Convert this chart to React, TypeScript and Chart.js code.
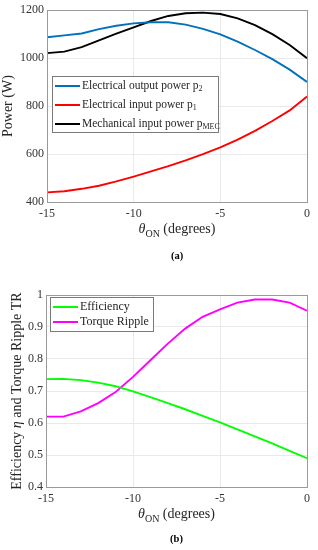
import React, { useEffect, useRef } from 'react';
import { Chart, registerables } from 'chart.js';
Chart.register(...registerables);

const FONT = '"Liberation Serif", "Times New Roman", serif';

const thetaOn = [-15, -14, -13, -12, -11, -10, -9, -8, -7, -6, -5, -4, -3, -2, -1, 0];
const xTicks = [-15, -10, -5, 0];
const xTickLabels = ['-15', '-10', '-5', '0'];

// (a) powers in W
const p2Output = [1087, 1095, 1103, 1121, 1135, 1145, 1150, 1150, 1140, 1122, 1099, 1069, 1034, 996, 952, 901];
const p1Input = [440, 445, 455, 468, 486, 506, 528, 550, 574, 600, 628, 660, 697, 738, 782, 840];
const pMecInput = [1021, 1027, 1046, 1074, 1102, 1128, 1155, 1176, 1187, 1190, 1184, 1166, 1138, 1100, 1055, 1000];
const powerTicks = [400, 600, 800, 1000, 1200];
const powerTickLabels = ['400', '600', '800', '1000', '1200'];

// (b) efficiency and torque ripple
const efficiency = [0.737, 0.738, 0.734, 0.726, 0.715, 0.699, 0.681, 0.662, 0.643, 0.622, 0.602, 0.58, 0.558, 0.536, 0.513, 0.49];
const torqueRipple = [0.62, 0.62, 0.636, 0.662, 0.697, 0.744, 0.796, 0.848, 0.895, 0.932, 0.955, 0.976, 0.986, 0.986, 0.976, 0.951];
const ratioTicks = [0.4, 0.5, 0.6, 0.7, 0.8, 0.9, 1];
const ratioTickLabels = ['0.4', '0.5', '0.6', '0.7', '0.8', '0.9', '1'];

type Part = { text: string; font: string; dy?: number };

function drawRich(ctx: CanvasRenderingContext2D, parts: Part[], x: number, y: number, align: 'left' | 'center') {
  let w = 0;
  for (const p of parts) {
    ctx.font = p.font;
    w += ctx.measureText(p.text).width;
  }
  let cx = align === 'center' ? x - w / 2 : x;
  ctx.textAlign = 'left';
  for (const p of parts) {
    ctx.font = p.font;
    ctx.fillText(p.text, cx, y + (p.dy || 0));
    cx += ctx.measureText(p.text).width;
  }
}

type LegendItem = { color: string; parts: Part[] };
type Deco = {
  legendBox: { x: number; y: number; w: number; h: number };
  legendItems: LegendItem[];
  legendRowY: number[];
  lineX0: number;
  lineX1: number;
  textX: number;
  yTitle: Part[];
  yTitleX: number;
  xTitleY: number;
  caption: string;
  captionY: number;
};

function decoPlugin(d: Deco) {
  return {
    id: 'deco',
    afterDraw(chart: any) {
      const ctx: CanvasRenderingContext2D = chart.ctx;
      const a = chart.chartArea;
      ctx.save();
      // axes box
      ctx.strokeStyle = '#9a9a9a';
      ctx.lineWidth = 1;
      ctx.strokeRect(Math.round(a.left) + 0.5, Math.round(a.top) + 0.5, Math.round(a.right - a.left), Math.round(a.bottom - a.top));
      // legend
      const b = d.legendBox;
      ctx.fillStyle = '#ffffff';
      ctx.fillRect(b.x, b.y, b.w, b.h);
      ctx.strokeStyle = '#7a7a7a';
      ctx.strokeRect(b.x + 0.5, b.y + 0.5, b.w, b.h);
      ctx.textBaseline = 'middle';
      d.legendItems.forEach((it, i) => {
        const yy = d.legendRowY[i];
        ctx.strokeStyle = it.color;
        ctx.lineWidth = 2;
        ctx.beginPath();
        ctx.moveTo(d.lineX0, yy);
        ctx.lineTo(d.lineX1, yy);
        ctx.stroke();
        ctx.fillStyle = '#262626';
        drawRich(ctx, it.parts, d.textX, yy, 'left');
      });
      // x title
      ctx.fillStyle = '#262626';
      const cx = (a.left + a.right) / 2;
      drawRich(ctx, [
        { text: 'θ', font: `italic 14px ${FONT}` },
        { text: 'ON', font: `10px ${FONT}`, dy: 5 },
        { text: ' (degrees)', font: `14px ${FONT}` },
      ], cx, d.xTitleY, 'center');
      // y title
      ctx.save();
      ctx.translate(d.yTitleX, (a.top + a.bottom) / 2);
      ctx.rotate(-Math.PI / 2);
      drawRich(ctx, d.yTitle, 0, 0, 'center');
      ctx.restore();
      // caption
      ctx.fillStyle = '#000';
      ctx.font = `bold 10.5px ${FONT}`;
      ctx.textAlign = 'center';
      ctx.fillText(d.caption, cx, d.captionY);
      ctx.restore();
    },
  };
}

function makeScales(yMin: number, yMax: number, yTicks: number[], yLabels: string[], yWidth: number) {
  const tickFont = { family: FONT, size: 12 };
  return {
    x: {
      type: 'linear',
      min: -15,
      max: 0,
      afterBuildTicks: (s: any) => { s.ticks = xTicks.map((v) => ({ value: v })); },
      afterFit: (s: any) => { s.height = 20; },
      ticks: {
        callback: (v: any) => { const i = xTicks.indexOf(Number(v)); return i >= 0 ? xTickLabels[i] : ''; },
        font: tickFont, color: '#333333', padding: 5, maxRotation: 0, autoSkip: false,
      },
      grid: { color: '#e9e9e9', drawTicks: false },
      border: { display: false },
    },
    y: {
      type: 'linear',
      min: yMin,
      max: yMax,
      afterBuildTicks: (s: any) => { s.ticks = yTicks.map((v) => ({ value: v })); },
      afterFit: (s: any) => { s.width = yWidth; },
      ticks: {
        callback: (v: any) => {
          const i = yTicks.findIndex((t) => Math.abs(t - Number(v)) < 1e-9);
          return i >= 0 ? yLabels[i] : '';
        },
        font: tickFont, color: '#333333', padding: 3, autoSkip: false,
      },
      grid: { color: '#e9e9e9', drawTicks: false },
      border: { display: false },
    },
  };
}

function ds(label: string, values: number[], color: string) {
  return {
    label,
    data: thetaOn.map((x, i) => ({ x, y: values[i] })),
    borderColor: color,
    backgroundColor: color,
    borderWidth: 1.9,
    pointRadius: 0,
    tension: 0,
    fill: false,
  };
}

export default function App() {
  const refA = useRef<HTMLCanvasElement>(null);
  const refB = useRef<HTMLCanvasElement>(null);

  useEffect(() => {
    document.body.style.margin = '0';
    const sub = (t: string) => ({ text: t, font: `8px ${FONT}`, dy: 3 });
    const lf = `11.5px ${FONT}`;
    const chartA = new Chart(refA.current as HTMLCanvasElement, {
      type: 'line',
      data: {
        datasets: [
          ds('Electrical output power p2', p2Output, '#0072BD'),
          ds('Electrical input power p1', p1Input, '#FF0000'),
          ds('Mechanical input power pMEC', pMecInput, '#000000'),
        ],
      },
      options: {
        animation: false,
        responsive: false,
        maintainAspectRatio: false,
        layout: { padding: { left: 0, right: 11, top: 10, bottom: 48 } },
        plugins: { legend: { display: false }, tooltip: { enabled: false } },
        scales: makeScales(400, 1200, powerTicks, powerTickLabels, 47) as any,
      },
      plugins: [decoPlugin({
        legendBox: { x: 52, y: 76, w: 166, h: 56 },
        legendItems: [
          { color: '#0072BD', parts: [{ text: 'Electrical output power p', font: lf }, sub('2')] },
          { color: '#FF0000', parts: [{ text: 'Electrical input power p', font: lf }, sub('1')] },
          { color: '#000000', parts: [{ text: 'Mechanical input power p', font: lf }, sub('MEC')] },
        ],
        legendRowY: [86, 105, 124],
        lineX0: 55,
        lineX1: 80,
        textX: 82,
        yTitle: [{ text: 'Power (W)', font: `14px ${FONT}` }],
        yTitleX: 8,
        xTitleY: 229,
        caption: '(a)',
        captionY: 256,
      }) as any],
    });

    const lf2 = `12px ${FONT}`;
    const chartB = new Chart(refB.current as HTMLCanvasElement, {
      type: 'line',
      data: {
        datasets: [
          ds('Efficiency', efficiency, '#00FF00'),
          ds('Torque Ripple', torqueRipple, '#FF00FF'),
        ],
      },
      options: {
        animation: false,
        responsive: false,
        maintainAspectRatio: false,
        layout: { padding: { left: 0, right: 11, top: 25, bottom: 43 } },
        plugins: { legend: { display: false }, tooltip: { enabled: false } },
        scales: makeScales(0.4, 1, ratioTicks, ratioTickLabels, 46) as any,
      },
      plugins: [decoPlugin({
        legendBox: { x: 50, y: 27, w: 103, h: 34 },
        legendItems: [
          { color: '#00FF00', parts: [{ text: 'Efficiency', font: lf2 }] },
          { color: '#FF00FF', parts: [{ text: 'Torque Ripple', font: lf2 }] },
        ],
        legendRowY: [37, 52],
        lineX0: 53,
        lineX1: 78,
        textX: 80,
        yTitle: [
          { text: 'Efficiency ', font: `14px ${FONT}` },
          { text: 'η', font: `italic 14px ${FONT}` },
          { text: ' and Torque Ripple TR', font: `14px ${FONT}` },
        ],
        yTitleX: 17,
        xTitleY: 244,
        caption: '(b)',
        captionY: 269,
      }) as any],
    });

    return () => {
      chartA.destroy();
      chartB.destroy();
    };
  }, []);

  return (
    <div style={{ width: 318, height: 550, background: '#fff' }}>
      <canvas ref={refA} width={318} height={270} style={{ display: 'block', width: 318, height: 270 }} />
      <canvas ref={refB} width={318} height={280} style={{ display: 'block', width: 318, height: 280 }} />
    </div>
  );
}
